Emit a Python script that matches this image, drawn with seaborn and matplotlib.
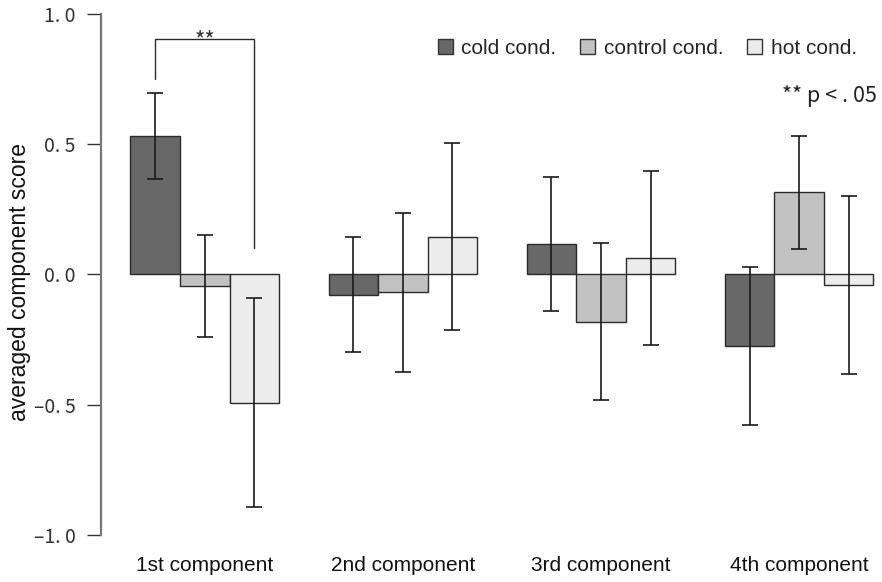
import matplotlib
matplotlib.use("Agg")
import matplotlib.pyplot as plt
import seaborn as sns
import pandas as pd
import numpy as np

components = ["1st component", "2nd component", "3rd component", "4th component"]
conditions = ["cold cond.", "control cond.", "hot cond."]
cold_vals = [0.532, -0.077, 0.117, -0.275]
control_vals = [-0.044, -0.068, -0.181, 0.315]
hot_vals = [-0.492, 0.145, 0.064, -0.040]
cold_err = [0.166, 0.222, 0.257, 0.304]
control_err = [0.197, 0.305, 0.300, 0.218]
hot_err = [0.400, 0.360, 0.335, 0.343]
ytick_vals = [-1.0, -0.5, 0.0, 0.5, 1.0]
ytick_labels = ["\u20131. 0", "\u20130. 5", "0. 0", "0. 5", "1. 0"]

colors = ["#686868", "#c2c2c2", "#ececec"]

sns.set_style("white")
plt.rcParams["font.family"] = ["Liberation Sans", "DejaVu Sans"]

rows = []
for comp, c, k, h in zip(components, cold_vals, control_vals, hot_vals):
    rows.append((comp, conditions[0], c))
    rows.append((comp, conditions[1], k))
    rows.append((comp, conditions[2], h))
df = pd.DataFrame(rows, columns=["component", "condition", "score"])

fig = plt.figure(figsize=(8.82, 5.82), dpi=100)
ax = fig.add_axes([0.1142, 0.0808, 0.884, 0.8952])

sns.barplot(data=df, x="component", y="score", hue="condition",
            order=components, hue_order=conditions, palette=colors,
            width=0.75, errorbar=None, edgecolor="#2a2a2a", linewidth=1.0,
            saturation=1, ax=ax)

errs = [cold_err, control_err, hot_err]
centers = {}
bar_containers = list(ax.containers)
for ci, cont in enumerate(bar_containers):
    for j, bar in enumerate(cont.patches):
        xc = bar.get_x() + bar.get_width() / 2
        h = df[(df.component == components[j]) & (df.condition == conditions[ci])].score.iloc[0]
        centers[(ci, j)] = xc
        ax.errorbar(xc, h, yerr=errs[ci][j], fmt="none", ecolor="#1a1a1a",
                    elinewidth=1.2, capsize=5.5, capthick=1.2, zorder=5)

# significance bracket on 1st component (cold vs hot)
x1 = centers[(0, 0)]
x2 = centers[(2, 0)]
ax.plot([x1, x1, x2, x2], [0.75, 0.905, 0.905, 0.10], color="#2a2a2a", lw=1.0,
        solid_joinstyle="miter")
ax.text((x1 + x2) / 2, 0.87, "**", ha="center", va="baseline", fontsize=16,
        color="#333333", family=["Noto Sans CJK JP", "DejaVu Sans"])

ax.text(0.996, 0.843, "** p < . 05", transform=ax.transAxes, ha="right",
        va="center", fontsize=15.5, color="#222222",
        family=["Noto Sans CJK JP", "DejaVu Sans"])

ax.set_ylim(-1.0, 1.0)
ax.set_xlim(-0.525, 3.41)
ax.set_yticks(ytick_vals)
ax.set_yticklabels(ytick_labels, family=["Noto Sans CJK JP", "DejaVu Sans"],
                   fontsize=14, color="#333333")
ax.set_ylabel("averaged component score", fontsize=16.5, color="#111111")
ax.yaxis.set_label_coords(-0.09, 0.486)
ax.set_xlabel("")
ax.tick_params(axis="y", direction="out", length=10, width=1.0, color="#333333",
               left=True, pad=8)
ax.tick_params(axis="x", length=0, pad=15, labelsize=15, labelcolor="#111111")

for s in ["top", "right", "bottom"]:
    ax.spines[s].set_visible(False)
ax.spines["left"].set_color("#777777")
ax.spines["left"].set_linewidth(1.6)

leg = ax.legend(loc="center right", bbox_to_anchor=(0.988, 0.9175),
                bbox_transform=fig.transFigure, ncol=3,
                frameon=False, fontsize=15, handlelength=0.72, handleheight=0.72,
                handletextpad=0.4, columnspacing=1.15, borderpad=0.2)
for p in leg.get_patches():
    p.set_edgecolor("#333333")

fig.savefig("out.png", dpi=100)
